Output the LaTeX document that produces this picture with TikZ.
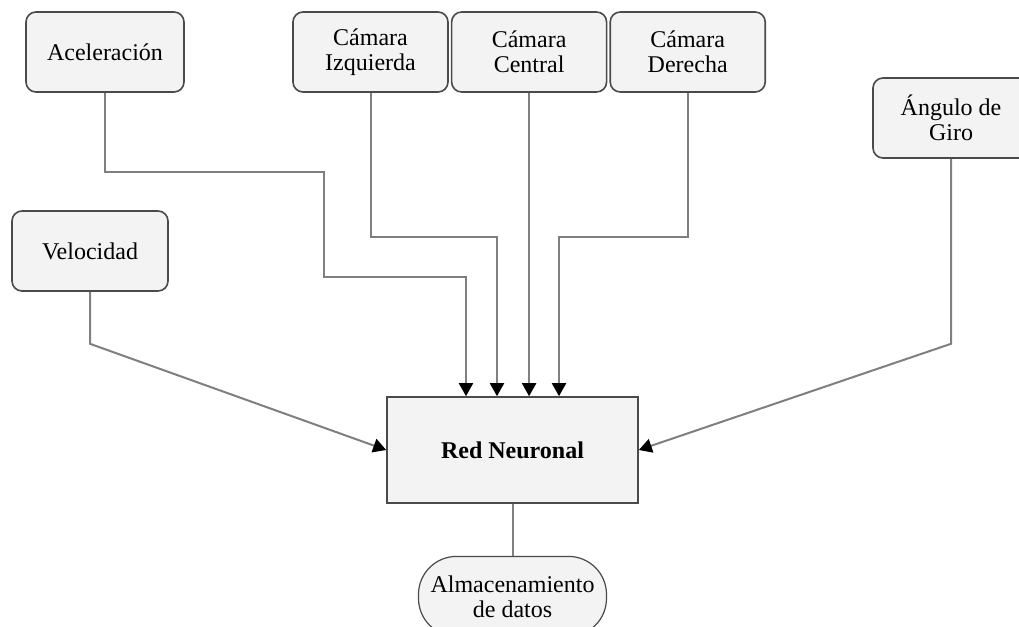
\documentclass[tikz,border=0pt]{standalone}
\usepackage{fontspec}
\setmainfont{Liberation Serif}
\usetikzlibrary{positioning,arrows.meta}

\definecolor{relleno}{HTML}{F3F3F3}
\definecolor{borde}{HTML}{4A4A4A}
\definecolor{trazo}{HTML}{7F7F7F}

\tikzstyle{caja} = [rectangle, rounded corners=5pt, minimum width=78pt, minimum height=40pt, inner sep=2pt, align=center, draw=borde, line width=0.8pt, fill=relleno, font=\fontsize{12}{12.5}\selectfont]
\tikzstyle{nucleo} = [rectangle, minimum width=125.5pt, minimum height=53pt, align=center, draw=borde, line width=0.8pt, fill=relleno, font=\fontsize{12}{12.5}\selectfont\bfseries]
\tikzstyle{almacen} = [rectangle, rounded corners=19pt, minimum width=94pt, minimum height=40pt, inner sep=1pt, align=center, draw=borde, line width=0.6pt, fill=relleno, font=\fontsize{12}{12.5}\selectfont]
\tikzstyle{flecha} = [draw=trazo, line width=1pt, -{Triangle[length=6.5pt,width=7pt,color=black]}]
\tikzstyle{linea} = [draw=trazo, line width=1pt]

\begin{document}
\begin{tikzpicture}[x=0.5pt,y=-0.5pt]
\clip (0,0) rectangle (1019,627);

\node[caja, minimum width=79pt] (Acel) at (105,52) {Aceleración};
\node[caja] (Vel) at (90,251) {Velocidad};

\node[caja, minimum width=77.5pt] (Izq) at (370.5,52) {Cámara\\Izquierda};
\node[caja, minimum width=77.5pt] (Cen) [right=1pt of Izq] {Cámara\\Central};
\node[caja, minimum width=77.5pt] (Der) [right=1pt of Cen] {Cámara\\Derecha};

\node[caja] (Ang) at (951,118) {Ángulo de\\Giro};

\node[nucleo] (Red) at (512.5,450) {Red Neuronal};
\node[almacen] (Alm) [below=26pt of Red] {Almacenamiento\\de datos};

% puntos de quiebre
\coordinate (b1) at (466,277);
\coordinate (b2) at (497,237);
\coordinate (b4) at (559,237);

\draw[flecha] (Acel.south) |- (324,172) |- (b1) -- (b1 |- Red.north);
\draw[flecha] (Izq.south) |- (b2) -- (b2 |- Red.north);
\draw[flecha] (Cen.south) -- (Cen.south |- Red.north);
\draw[flecha] (Der.south) |- (b4) -- (b4 |- Red.north);
\draw[flecha] (Vel.south) -- ++(0,52) -- (Red.west);
\draw[flecha] (Ang.south) -- ++(0,185) -- (Red.east);

\path[linea]
    (Red) edge (Alm)
    ;

\end{tikzpicture}
\end{document}
